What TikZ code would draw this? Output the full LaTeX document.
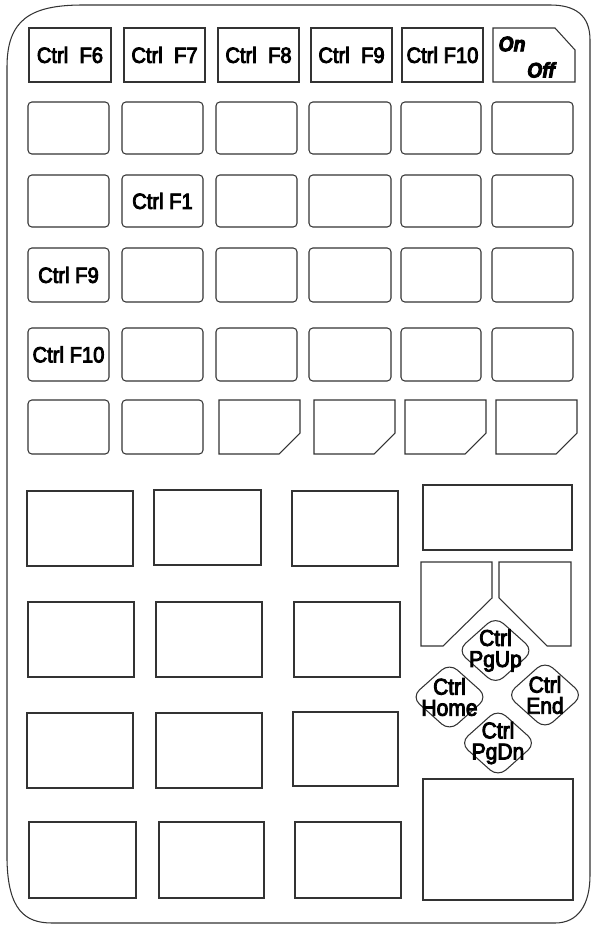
\documentclass[tikz,border=0pt]{standalone}
\usepackage{fontspec}
\setmainfont{Liberation Sans}[FakeStretch=0.92, FakeBold=4]

\tikzset{
	taste/.style={draw=black!80, line width=0.6pt},
	rundtaste/.style={taste, rounded corners=2.2pt},
	raute/.style={taste, rounded corners=6pt},
	beschriftung/.style={font=\fontsize{12.5}{11.5}\selectfont, align=center, inner sep=0pt},
	rautentext/.style={beschriftung, font=\fontsize{13}{12}\selectfont},
	onoff/.style={beschriftung, font=\fontsize{12}{11.5}\selectfont\bfseries\itshape},
}

\begin{document}
\begin{tikzpicture}[x=0.02cm, y=-0.02cm]
		
		\useasboundingbox (0,0) rectangle (592,925);
		
		%Rahmen
		\draw [taste] (7,67) .. controls (7,20) and (30,5) .. (83,5) -- (550,5)
			.. controls (575,5) and (590,15) .. (590,40) -- (590,875)
			.. controls (590,905) and (578,923) .. (555,923) -- (52,923)
			.. controls (25,923) and (8,910) .. (7,860) -- cycle;
		
		%Funktionstasten oben
		\draw [taste] (29,28) rectangle (111,82) node (f6) [midway, beschriftung] {Ctrl\ \ F6};
		\draw [taste] (124,28) rectangle (205,82) node (f7) [midway, beschriftung] {Ctrl\ \ F7};
		\draw [taste] (218,28) rectangle (299,82) node (f8) [midway, beschriftung] {Ctrl\ \ F8};
		\draw [taste] (311,28) rectangle (392,82) node (f9) [midway, beschriftung] {Ctrl\ \ F9};
		\draw [taste] (402,28) rectangle (483,82) node (f10) [midway, beschriftung] {Ctrl F10};
		\draw [taste] (493,28) -- (555,28) -- (575,50) -- (575,82) -- (493,82) -- cycle;
		\node (on) [onoff] at (512,44) {On};
		\node (off) [onoff] at (541,70) {Off};
		
		%Tastenfeld mit runden Ecken
		\foreach \ya/\yb in {102/154, 175/227, 248/302, 328/381}
			\foreach \xa/\xb in {28/109, 122/203, 216/297, 309/391, 401/481, 492/573}
				\draw [rundtaste] (\xa,\ya) rectangle (\xb,\yb);
		\node (cf1) [beschriftung] at (162.5,201) {Ctrl F1};
		\node (cf9) [beschriftung] at (68.5,275) {Ctrl F9};
		\node (cf10) [beschriftung] at (68.5,354.5) {Ctrl F10};
		
		%untere Reihe, teils abgeschraegt
		\foreach \xa/\xb in {28/109, 122/203}
			\draw [rundtaste] (\xa,400) rectangle (\xb,454);
		\foreach \xa in {219, 314, 405, 496}
			\draw [taste] (\xa,400) -- ++(81,0) -- ++(0,33) -- ++(-21,21) -- (\xa,454) -- cycle;
		
		%grosse Tasten
		\foreach \xa/\ya/\xb/\yb in {27/491/133/566, 154/490/261/565, 292/491/398/566,
				28/602/134/677, 156/602/262/677, 294/602/400/677,
				27/713/133/788, 156/713/262/788, 293/712/398/786,
				29/822/136/898, 159/822/264/898, 295/822/401/898}
			\draw [taste] (\xa,\ya) rectangle (\xb,\yb);
		
		%rechter Block
		\draw [taste] (423,485) rectangle (572,550);
		\draw [taste] (421,562) -- (492,562) -- (492,598) -- (443,646) -- (421,646) -- cycle;
		\draw [taste] (499,562) -- (571,562) -- (571,646) -- (547,646) -- (499,598) -- cycle;
		\draw [taste] (423,779) rectangle (573,900);
		
		%Pfeiltasten als Rauten
		\foreach \n/\cx/\cy/\t in {pgup/495.5/650.5/PgUp, home/449.5/697/Home, end/545/695/End, pgdn/498/743/PgDn}
		{
			\draw [raute] (\cx,\cy) ++(0,-34) -- ++(38,34) -- ++(-38,34) -- ++(-38,-34) -- cycle;
			\node (\n) [rautentext] at (\cx,\cy) {Ctrl\\\t};
		}
		
	\end{tikzpicture}
\end{document}
